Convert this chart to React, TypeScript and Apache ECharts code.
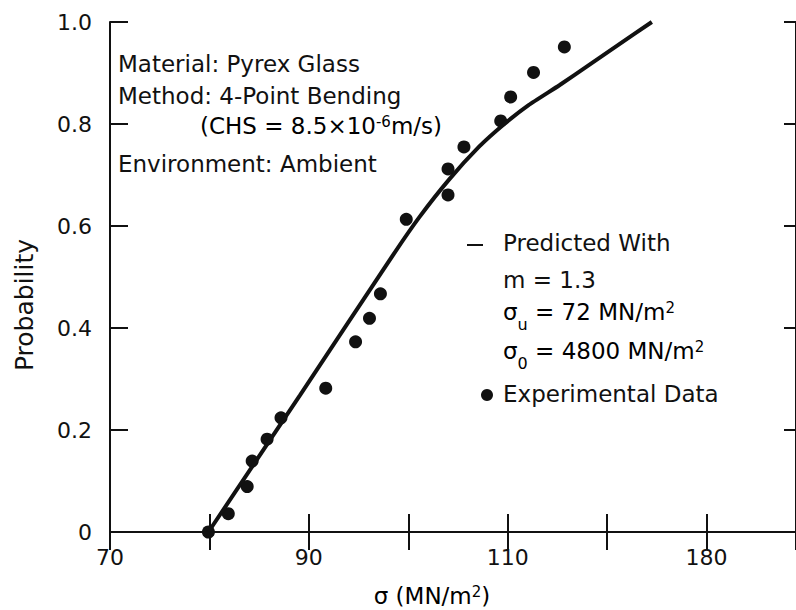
import React, { useEffect, useRef } from "react";
import * as echarts from "echarts";

// Experimental data (σ in MN/m², cumulative failure probability)
const expSigma = [79.9, 81.9, 83.8, 84.3, 85.8, 87.2, 91.7, 94.7, 96.1, 97.2, 99.8, 104.0, 104.0, 105.6, 109.3, 110.3, 112.6, 115.7];
const expProb = [0, 0.036, 0.089, 0.139, 0.182, 0.224, 0.282, 0.373, 0.419, 0.467, 0.613, 0.661, 0.712, 0.755, 0.806, 0.853, 0.901, 0.951];

// Predicted curve
const predSigma = [79.9, 89.1, 98.6, 101.1, 104.1, 107.1, 109.6, 112.1, 115.2, 118.2, 121.2, 124.5];
const predProb = [0, 0.268, 0.547, 0.617, 0.691, 0.755, 0.799, 0.837, 0.876, 0.916, 0.956, 1.0];

// Tick labels as printed on the figure
const xTickValues = [70, 90, 110, 130];
const xTickLabels = ["70", "90", "110", "180"];
const yTickValues = [0, 0.2, 0.4, 0.6, 0.8, 1.0];
const yTickLabels = ["0", "0.2", "0.4", "0.6", "0.8", "1.0"];

const FONT = "DejaVu Sans";
const INK = "#111111";

export default function App() {
  const ref = useRef<HTMLDivElement>(null);
  useEffect(() => {
    document.body.style.margin = "0";
    if (!ref.current) return;
    const chart = echarts.init(ref.current, undefined, { renderer: "svg" });
    const base = { fontFamily: FONT, fontSize: 23, fill: INK };
    const rich = {
      n: { fontFamily: FONT, fontSize: 23, color: INK, lineHeight: 24 },
      sup: { fontFamily: FONT, fontSize: 15, color: INK, lineHeight: 15, verticalAlign: "top" },
      sub: { fontFamily: FONT, fontSize: 16, color: INK, lineHeight: 14, padding: [16, 0, 0, 0], verticalAlign: "top" },
    };
    const axisLine = { show: true, lineStyle: { color: INK, width: 2 } };
    const tick = (len: number) => ({ show: true, inside: true, length: len, lineStyle: { color: INK, width: 2 } });
    chart.setOption({
      animation: false,
      grid: { left: 110, right: 0, top: 22, bottom: 78, containLabel: false },
      xAxis: [
        {
          type: "value", position: "bottom", min: 70, max: 139, interval: 10,
          axisLine, axisTick: tick(18), splitLine: { show: false },
          axisLabel: {
            margin: 14, fontFamily: FONT, fontSize: 22, color: INK, showMaxLabel: false,
            formatter: (v: number) => {
              const i = xTickValues.findIndex((t) => Math.abs(t - v) < 1e-6);
              return i >= 0 ? xTickLabels[i] : "";
            },
          },
        },
        {
          type: "value", position: "top", min: 70, max: 139, interval: 10,
          axisLine, axisTick: tick(18), splitLine: { show: false }, axisLabel: { show: false },
        },
      ],
      yAxis: [
        {
          type: "value", position: "left", min: 0, max: 1, interval: 0.2,
          axisLine, axisTick: tick(18), splitLine: { show: false },
          axisLabel: {
            margin: 18, fontFamily: FONT, fontSize: 22, color: INK,
            formatter: (v: number) => {
              const i = yTickValues.findIndex((t) => Math.abs(t - v) < 1e-6);
              return i >= 0 ? yTickLabels[i] : "";
            },
          },
        },
        {
          type: "value", position: "right", min: 0, max: 1, interval: 0.2,
          axisLine, axisTick: tick(12), splitLine: { show: false }, axisLabel: { show: false },
        },
      ],
      series: [
        {
          type: "line", name: "Predicted", xAxisIndex: 0, yAxisIndex: 0,
          data: predSigma.map((s, i) => [s, predProb[i]]),
          smooth: 0.15, showSymbol: false, symbol: "none",
          lineStyle: { color: INK, width: 4 },
        },
        {
          type: "scatter", name: "Experimental Data", xAxisIndex: 0, yAxisIndex: 0,
          data: expSigma.map((s, i) => [s, expProb[i]]),
          symbol: "circle", symbolSize: 13, itemStyle: { color: INK, opacity: 1 },
        },
      ],
      graphic: [
        { type: "text", left: 118, top: 52, style: { ...base, text: "Material: Pyrex Glass" } },
        { type: "text", left: 118, top: 84, style: { ...base, text: "Method: 4-Point Bending" } },
        {
          type: "text", left: 200, top: 114,
          style: { text: "{n|(CHS = 8.5×10}{sup|-6}{n|m/s)}", rich },
        },
        { type: "text", left: 118, top: 152, style: { ...base, text: "Environment: Ambient" } },
        { type: "line", shape: { x1: 467, y1: 245, x2: 483, y2: 245 }, style: { stroke: INK, lineWidth: 2 } },
        { type: "text", left: 503, top: 231, style: { ...base, text: "Predicted With" } },
        { type: "text", left: 503, top: 268, style: { ...base, text: "m = 1.3" } },
        {
          type: "text", left: 503, top: 300,
          style: { text: "{n|σ}{sub|u}{n| = 72 MN/m}{sup|2}", rich },
        },
        {
          type: "text", left: 503, top: 339,
          style: { text: "{n|σ}{sub|0}{n| = 4800 MN/m}{sup|2}", rich },
        },
        { type: "circle", shape: { cx: 487, cy: 395, r: 6 }, style: { fill: INK } },
        { type: "text", left: 503, top: 382, style: { ...base, text: "Experimental Data" } },
        {
          type: "text", x: 24, y: 305, rotation: Math.PI / 2,
          style: { fontFamily: FONT, fontSize: 25, fill: INK, text: "Probability", align: "center", verticalAlign: "middle" },
        },
        {
          type: "text", x: 432, y: 596,
          style: { text: "{n|σ (MN/m}{sup|2}{n|)}", rich, align: "center", verticalAlign: "middle" },
        },
      ],
    });
    return () => chart.dispose();
  }, []);
  return <div ref={ref} style={{ width: 796, height: 610 }} />;
}
